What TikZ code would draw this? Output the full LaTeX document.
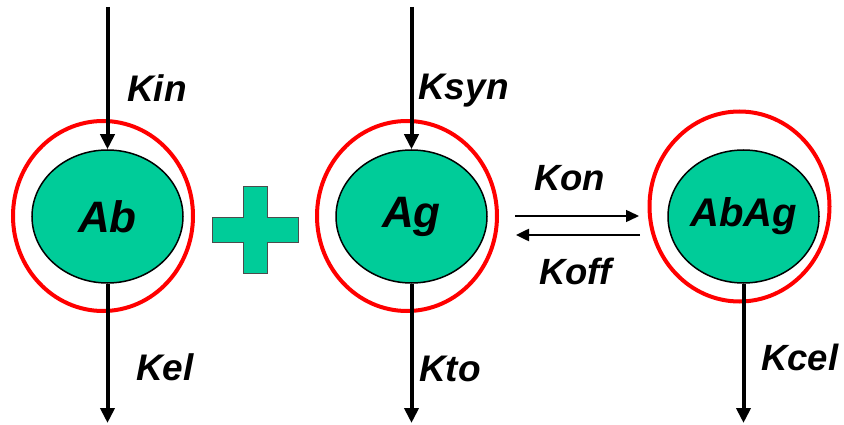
\documentclass[tikz,border=0pt]{standalone}
\usepackage{fontspec}
\setmainfont{Liberation Sans}
\usetikzlibrary{arrows.meta,shapes.geometric}
\definecolor{cellgreen}{HTML}{00CC99}
\definecolor{ringred}{HTML}{FF0000}
\begin{document}
\begin{tikzpicture}[x=1pt,y=-1pt,
  ring/.style={ellipse,draw=ringred,line width=4pt,minimum width=180pt,minimum height=190pt,inner sep=0pt},
  cell/.style={ellipse,draw=black,line width=1.5pt,fill=cellgreen,minimum width=151pt,minimum height=133pt,inner sep=0pt,font=\fontsize{44}{50}\selectfont\bfseries\itshape},
  flow/.style={line width=4pt,-{Triangle[length=15pt,width=14pt]}},
  react/.style={-{Triangle[length=13pt,width=12pt]}},
  lbl/.style={inner sep=0pt,anchor=base west,font=\fontsize{37}{42}\selectfont\bfseries\itshape},
  slbl/.style={inner sep=0pt,anchor=base west,font=\fontsize{36.5}{42}\selectfont\bfseries\itshape}]
\useasboundingbox (0,0) rectangle (844,425);
% rings
\node[ring] (abring) at (103,216) {};
\node[ring] (agring) at (407,216) {};
\node[ring] (abagring) at (739.5,206.5) {};
% end points
\coordinate (abtop) at (107.5,7);
\coordinate (abbot) at (107.5,423);
\coordinate (agtop) at (411.5,7);
\coordinate (agbot) at (411.5,423);
\coordinate (abagbot) at (743.5,423);
\coordinate (onstart) at (515,216);
\coordinate (onend) at (639,216);
\coordinate (offstart) at (640,235);
\coordinate (offend) at (516,235);
% cells
\node[cell] (ab) at (107.5,216.5) {Ab};
\node[cell] (ag) at (411.5,216.5) {Ag};
\node[cell,font=\fontsize{40}{46}\selectfont\bfseries\itshape] (abag) at (743.5,216.5) {AbAg};
% flows
\draw[flow] (abtop) -- (ab.north);
\draw[flow] (ab.south) -- (abbot);
\draw[flow] (agtop) -- (ag.north);
\draw[flow] (ag.south) -- (agbot);
\draw[flow] (abag.south) -- (abagbot);
\draw[react,line width=1.5pt] (onstart) -- (onend);
\draw[react,line width=2.5pt] (offstart) -- (offend);
% plus sign
\draw[fill=cellgreen,draw=black!70,line width=1pt]
  (243,187) -- (267,187) -- (267,218) -- (298,218) -- (298,242) -- (267,242)
  -- (267,273) -- (243,273) -- (243,242) -- (212,242) -- (212,218) -- (243,218) -- cycle;
% labels
\node[lbl] (kin) at (127,102) {Kin};
\node[lbl] (ksyn) at (418,100) {Ksyn};
\node[lbl] (kel) at (136,380) {Kel};
\node[lbl] (kto) at (419,381) {Kto};
\node[slbl] (kon) at (534,190) {Kon};
\node[slbl] (koff) at (539,284) {Koff};
\node[slbl] (kcel) at (761,370) {Kcel};
\end{tikzpicture}
\end{document}
